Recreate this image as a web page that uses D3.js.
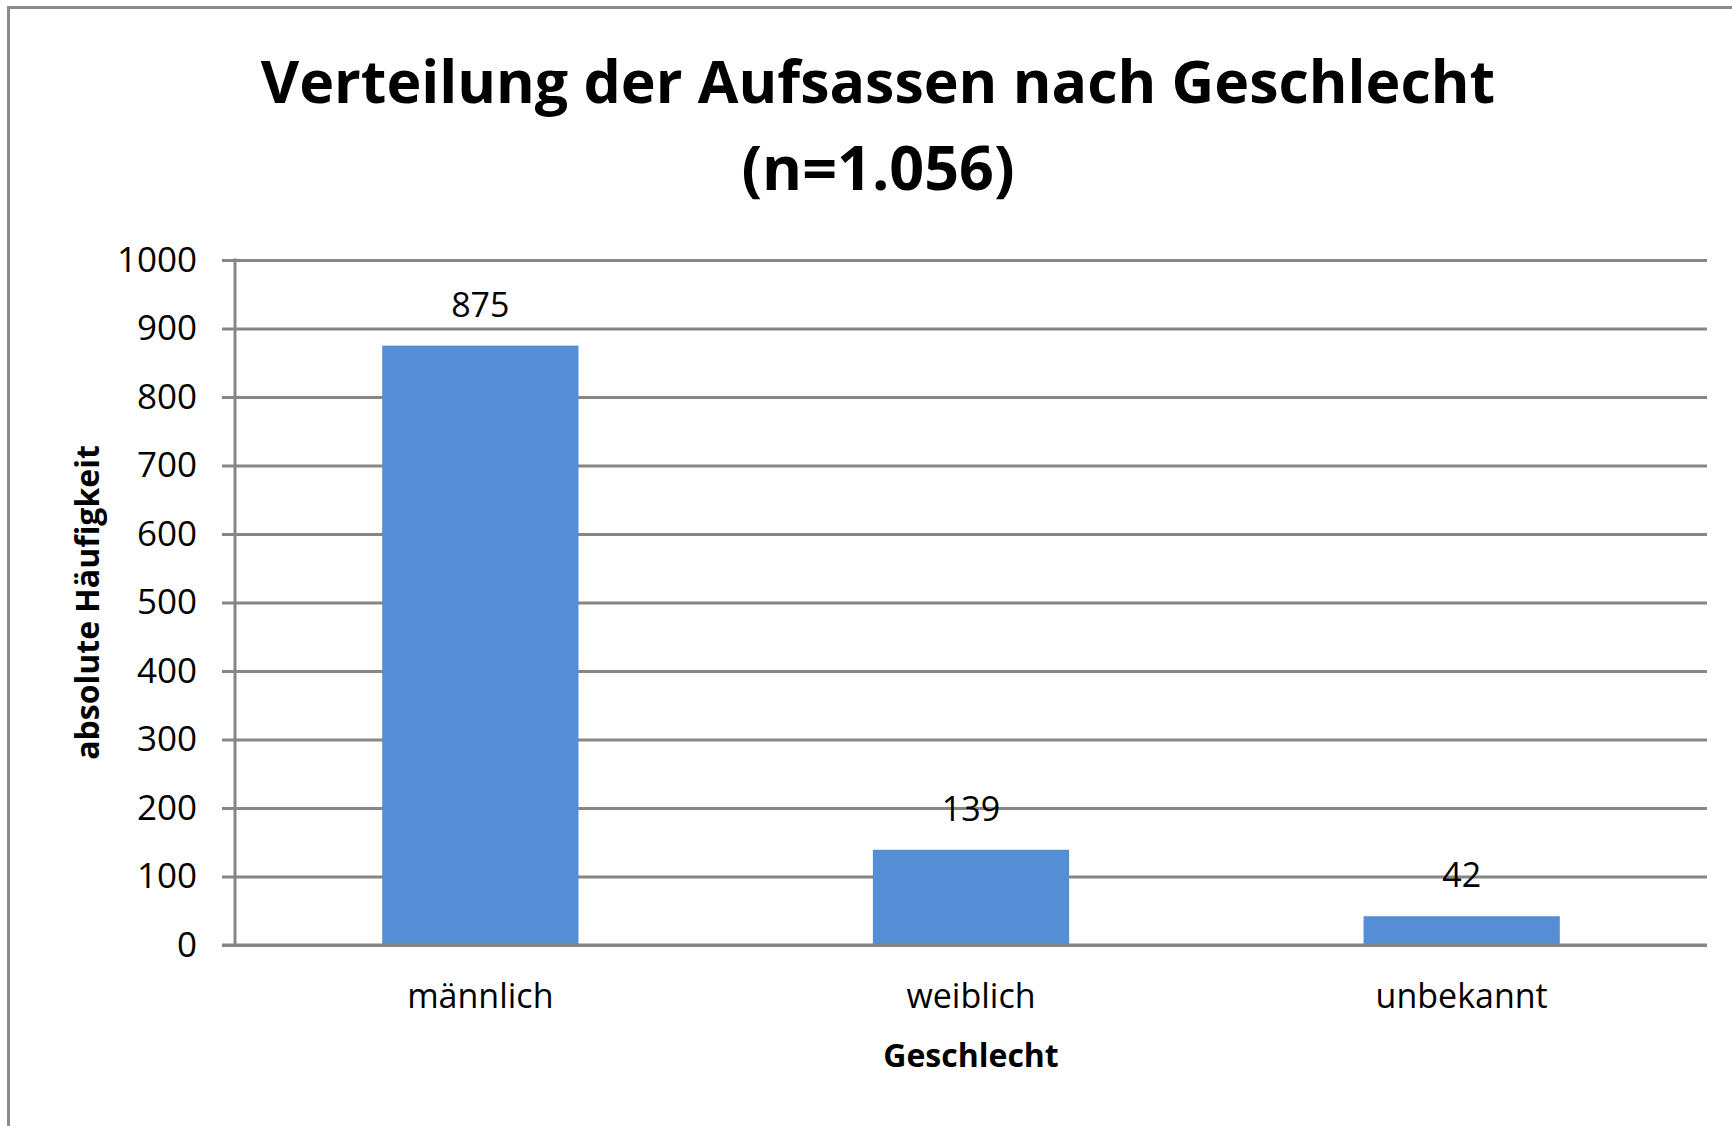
<!DOCTYPE html>
<html>
<head>
<meta charset="utf-8">
<script src="https://cdn.jsdelivr.net/npm/d3@7"></script>
<style>
    body { margin: 0; background: #fff; }
    svg { display: block; font-family: "Open Sans", sans-serif; }
</style>
</head>
<body>
<div id="chart"></div>
<script>
const categories = ["männlich", "weiblich", "unbekannt"];
const counts = [875, 139, 42];
const yTicks = [0, 100, 200, 300, 400, 500, 600, 700, 800, 900, 1000];
const titleLines = ["Verteilung der Aufsassen nach Geschlecht", "(n=1.056)"];
const xTitle = "Geschlecht";
const yTitle = "absolute Häufigkeit";

const width = 1732;
const height = 1126;

const gridColor = "#868686";
const barColor = "#558ed5";

const plot = { left: 235, right: 1707, top: 260, bottom: 945 };

function drawChart() {
    const svg = d3.select("#chart")
        .append("svg")
        .attr("width", width)
        .attr("height", height);

    // outer frame (only left and top edges are visible in the crop)
    svg.append("path")
        .attr("d", `M8.5,${height} V7.5 H${width}`)
        .attr("fill", "none")
        .attr("stroke", "#8c8c8c")
        .attr("stroke-width", 3);

    const xScale = d3.scaleBand()
        .domain(categories)
        .range([plot.left, plot.right])
        .paddingInner(0.6)
        .paddingOuter(0.3);

    const yScale = d3.scaleLinear()
        .domain([0, 1000])
        .range([plot.bottom, plot.top]);

    // gridlines
    const grid = svg.append("g")
        .attr("transform", `translate(${plot.left},0)`)
        .call(d3.axisLeft(yScale).tickValues(yTicks)
            .tickSize(-(plot.right - plot.left)).tickFormat(""));
    grid.select(".domain").remove();
    grid.selectAll("line")
        .attr("stroke", gridColor)
        .attr("stroke-width", 3);

    // y tick marks + labels
    const yAxis = svg.append("g")
        .attr("transform", `translate(${plot.left},0)`)
        .call(d3.axisLeft(yScale).tickValues(yTicks)
            .tickSize(13).tickPadding(25).tickFormat(d3.format("d")));
    yAxis.select(".domain").remove();
    yAxis.selectAll("line")
        .attr("stroke", gridColor)
        .attr("stroke-width", 3);
    yAxis.selectAll("text")
        .attr("fill", "#000")
        .style("font-size", "35px")
        .style("font-family", "'Open Sans', sans-serif");

    // bars
    svg.append("g")
        .selectAll("rect")
        .data(counts)
        .join("rect")
        .attr("x", (d, i) => xScale(categories[i]))
        .attr("y", (d) => yScale(d))
        .attr("width", xScale.bandwidth())
        .attr("height", (d) => yScale(0) - yScale(d))
        .attr("fill", barColor);

    // axis lines
    svg.append("line")
        .attr("x1", plot.left).attr("x2", plot.left)
        .attr("y1", plot.top - 1.5).attr("y2", plot.bottom)
        .attr("stroke", gridColor).attr("stroke-width", 3);
    svg.append("line")
        .attr("x1", plot.left - 13).attr("x2", plot.right)
        .attr("y1", plot.bottom).attr("y2", plot.bottom)
        .attr("stroke", gridColor).attr("stroke-width", 3);

    // value labels
    svg.append("g")
        .selectAll("text")
        .data(counts)
        .join("text")
        .attr("x", (d, i) => xScale(categories[i]) + xScale.bandwidth() / 2)
        .attr("y", (d) => yScale(d) - 29)
        .attr("text-anchor", "middle")
        .style("font-size", "34px")
        .text((d) => d);

    // category labels
    svg.append("g")
        .selectAll("text")
        .data(categories)
        .join("text")
        .attr("x", (d) => xScale(d) + xScale.bandwidth() / 2)
        .attr("y", plot.bottom + 63)
        .attr("text-anchor", "middle")
        .style("font-size", "34px")
        .text((d) => d);

    // axis titles
    svg.append("text")
        .attr("x", (plot.left + plot.right) / 2)
        .attr("y", 1067)
        .attr("text-anchor", "middle")
        .style("font-size", "32px")
        .style("font-weight", "bold")
        .text(xTitle);

    svg.append("text")
        .attr("transform", `translate(99,${(plot.top + plot.bottom) / 2}) rotate(-90)`)
        .attr("text-anchor", "middle")
        .style("font-size", "32px")
        .style("font-weight", "bold")
        .text(yTitle);

    // chart title
    svg.append("text")
        .attr("x", 878)
        .attr("y", 103)
        .attr("text-anchor", "middle")
        .style("font-size", "59px")
        .style("font-weight", "bold")
        .text(titleLines[0]);
    svg.append("text")
        .attr("x", 878)
        .attr("y", 190)
        .attr("text-anchor", "middle")
        .style("font-size", "61px")
        .style("font-weight", "bold")
        .text(titleLines[1]);
}

drawChart();
</script>
</body>
</html>
